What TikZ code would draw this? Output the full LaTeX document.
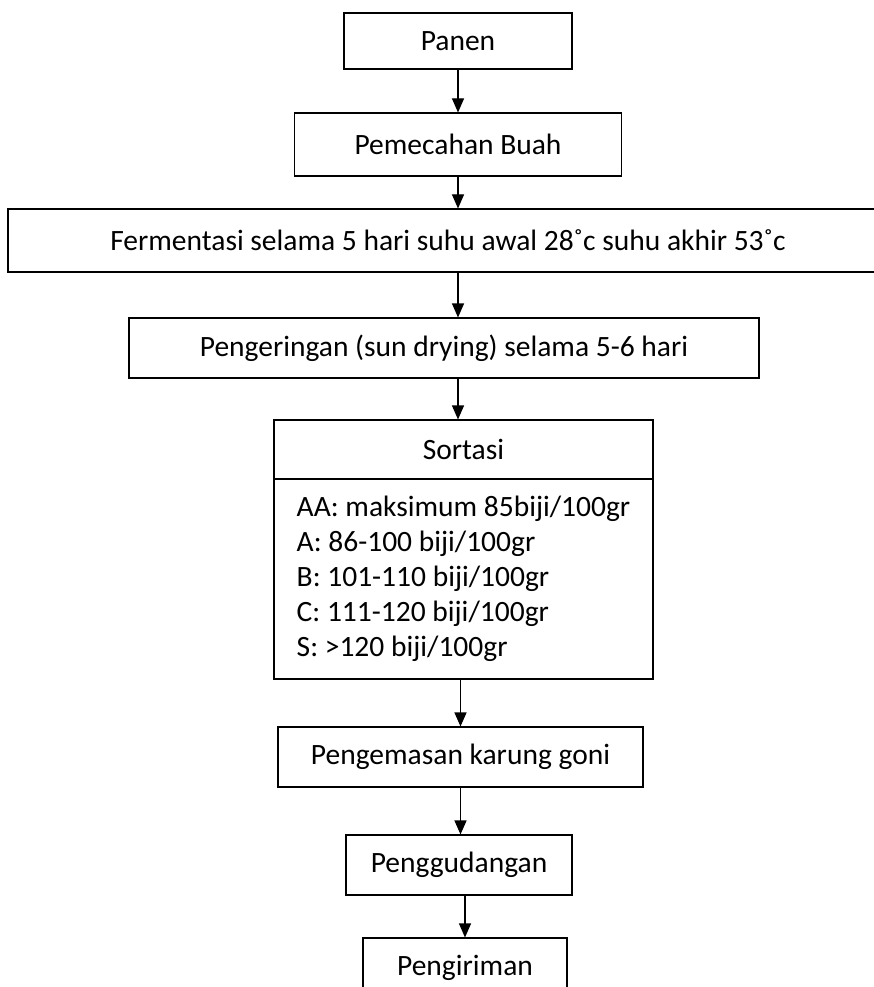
\documentclass[tikz,border=0pt]{standalone}
\usepackage{fontspec}
\setmainfont{Carlito}
\frenchspacing
\usetikzlibrary{positioning,arrows.meta}

\begin{document}
\begin{tikzpicture}[x=1pt,y=-1pt,
    flowbox/.style={draw=black,line width=1.1pt,fill=white,
      font=\fontsize{29.5}{35}\selectfont,inner sep=0pt,
      minimum height=60pt},
    flowarrow/.style={draw=black,line width=1.1pt,
      -{Triangle[length=14pt,width=12pt]}}]

  \useasboundingbox (0,0) rectangle (874,987);

  \node[flowbox,minimum width=228pt,minimum height=56pt] (panen) at (458,41) {Panen};
  \node[flowbox,minimum width=327pt,minimum height=63pt] (pemecahan) at (458,144.5) {Pemecahan Buah};
  \node[flowbox,minimum width=880pt,minimum height=63pt] (fermentasi) at (448,240.5)
    {Fermentasi selama 5 hari suhu awal 28˚c suhu akhir 53˚c};
  \node[flowbox,minimum width=630pt] (pengeringan) at (444,348)
    {Pengeringan (sun drying) selama 5-6 hari};

  % sortasi: header and grade list
  \node[flowbox,minimum width=379pt,minimum height=59pt] (sorthead) at (463.5,449.5) {Sortasi};
  \node[flowbox,minimum width=379pt,minimum height=200pt,align=left]
    (sortlist) at (463.5,579)
    {AA: maksimum 85biji/100gr\\
     A: 86-100 biji/100gr\\
     B: 101-110 biji/100gr\\
     C: 111-120 biji/100gr\\
     S: >120 biji/100gr};

  \node[flowbox,minimum width=365pt] (pengemasan) at (460.5,757) {Pengemasan karung goni};
  \node[flowbox,minimum width=226pt] (penggudangan) at (459,865) {Penggudangan};
  \node[flowbox,minimum width=204pt] (pengiriman) at (465,968) {Pengiriman};

  \draw[flowarrow] (panen.south) -- (pemecahan.north);
  \draw[flowarrow] (pemecahan.south) -- (fermentasi.north -| pemecahan);
  \draw[flowarrow] (fermentasi.south -| pemecahan) -- (pengeringan.north -| pemecahan);
  \draw[flowarrow] (pengeringan.south -| pemecahan) -- (sorthead.north -| pemecahan);
  \draw[flowarrow] (sortlist.south -| pengemasan) -- (pengemasan.north);
  \draw[flowarrow] (pengemasan.south) -- (penggudangan.north -| pengemasan);
  \draw[flowarrow] (penggudangan.south -| pengiriman) -- (pengiriman.north);
\end{tikzpicture}
\end{document}
